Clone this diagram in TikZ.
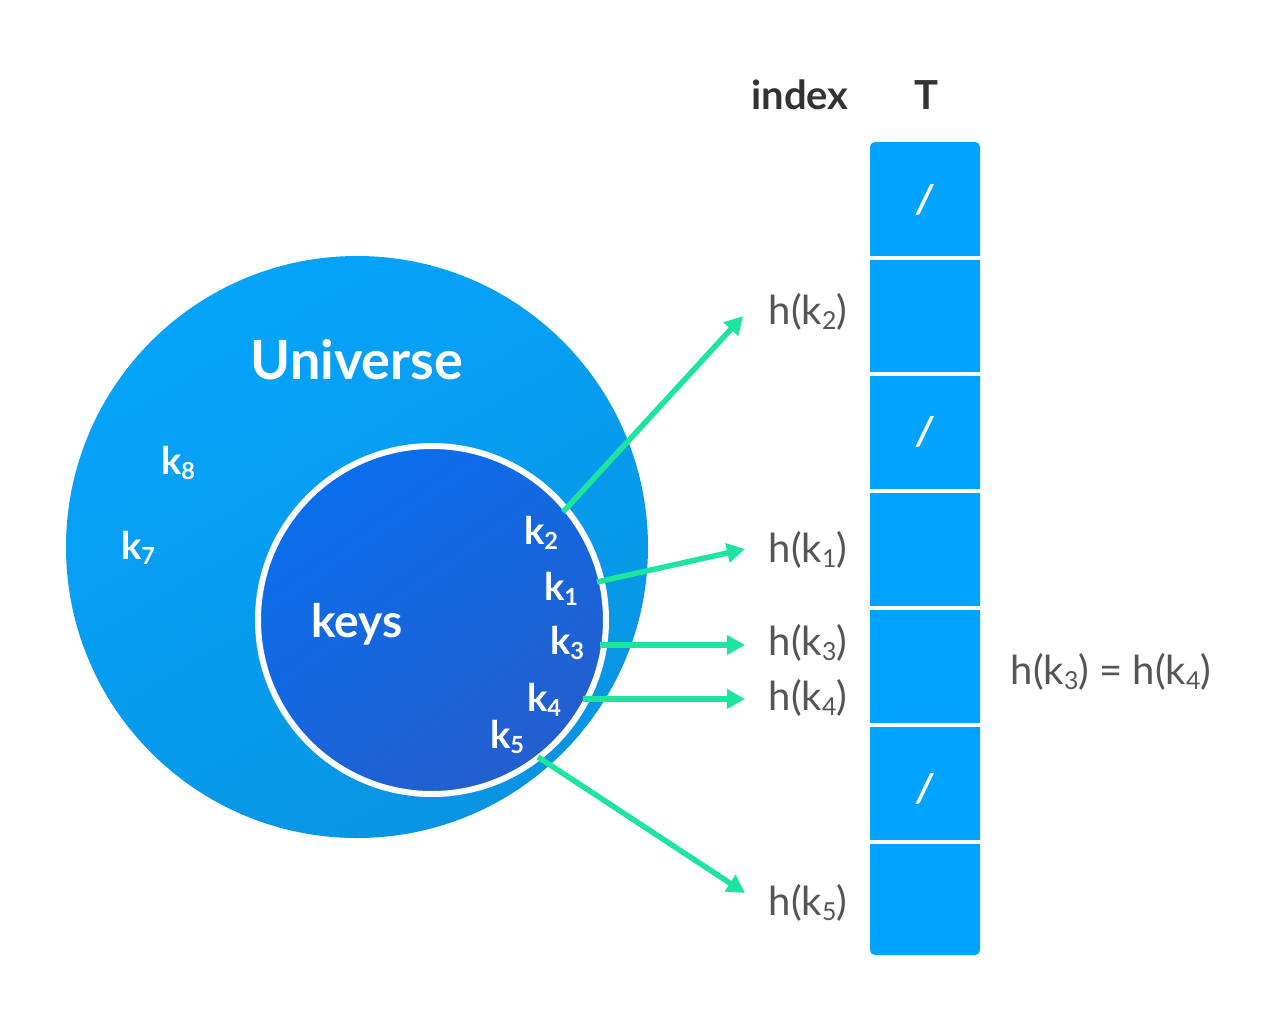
\documentclass[tikz,border=0pt]{standalone}
\usepackage{fontspec}
\usepackage{graphicx}
\setmainfont{Lato}
\usetikzlibrary{arrows.meta}
\definecolor{outerA}{HTML}{05A4FB}
\definecolor{outerB}{HTML}{0894E2}
\definecolor{innerA}{HTML}{0A6EEC}
\definecolor{innerB}{HTML}{235ECE}
\definecolor{tblue}{HTML}{00A3FF}
\definecolor{agreen}{HTML}{1EE59E}
\definecolor{dgray}{HTML}{333333}
\definecolor{mgray}{HTML}{555555}
\newcommand\kk[1]{k\raisebox{-0.12em}{\scalebox{0.62}{#1}}}
\newcommand\hk[1]{h(k\raisebox{-0.12em}{\scalebox{0.62}{#1}})}
\begin{document}
\begin{tikzpicture}[x=1pt,y=-1pt,
  wlab/.style={text=white,font=\fontsize{38}{40}\selectfont\bfseries,inner sep=0pt},
  hlab/.style={text=mgray,font=\fontsize{40}{44}\selectfont,inner sep=0pt,anchor=center},
  hdr/.style={text=dgray,font=\fontsize{40}{44}\selectfont\bfseries,inner sep=0pt},
  slash/.style={text=white,font=\fontsize{40}{40}\selectfont\bfseries\itshape,inner sep=0pt},
  sep/.style={white,line width=4pt},
  harrow/.style={agreen,line width=5.5pt,-{Triangle[length=18pt,width=19pt]}}]
\useasboundingbox (0,0) rectangle (1280,1023);
% universe
\shade[top color=outerA,bottom color=outerB,shading angle=30] (357,547) circle[radius=291];
% keys
\shade[top color=innerA,bottom color=innerB,shading angle=35] (432,620) circle[radius=174];
\draw[white,line width=6pt] (432,620) circle[radius=174];
\node[text=white,font=\fontsize{54}{56}\selectfont\bfseries,inner sep=0pt] (univ) at (357,360) {Universe};
\node[wlab,font=\fontsize{46}{48}\selectfont\bfseries] (keys) at (357,624) {keys};
\node[wlab] (k8) at (178,463) {\kk{8}};
\node[wlab] (k7) at (138,548) {\kk{7}};
\node[wlab] (k2) at (541,533) {\kk{2}};
\node[wlab] (k1) at (561,589) {\kk{1}};
\node[wlab] (k3) at (567,643) {\kk{3}};
\node[wlab] (k4) at (544,700) {\kk{4}};
\node[wlab] (k5) at (507,737) {\kk{5}};
% table
\fill[tblue,rounded corners=5pt] (870,142) rectangle (980,955);
\foreach \y in {258,374,491,608,725,842} \draw[sep] (870,\y) -- (980,\y);
\node[slash] (s1) at (925,200) {/};
\node[slash] (s3) at (925,432) {/};
\node[slash] (s6) at (925,789) {/};
\node[hdr] (index) at (800,95) {index};
\node[hdr] (T) at (926,95) {T};
% hash labels
\node[hlab] (hk2) at (808,312) {\hk{2}};
\node[hlab] (hk1) at (808,550) {\hk{1}};
\node[hlab] (hk3) at (808,643) {\hk{3}};
\node[hlab] (hk4) at (808,698) {\hk{4}};
\node[hlab] (hk5) at (808,903) {\hk{5}};
\node[hlab] (eq) at (1111,672) {\hk{3} = \hk{4}};
% arrows
\coordinate (a2) at (563,512); \coordinate (b2) at (743,316);
\coordinate (a1) at (597,582); \coordinate (b1) at (745,549);
\coordinate (a3) at (600,645); \coordinate (b3) at (745,645);
\coordinate (a4) at (583,699); \coordinate (b4) at (745,699);
\coordinate (a5) at (538,757); \coordinate (b5) at (745,893);
\foreach \i in {2,1,3,4,5} \draw[harrow] (a\i) -- (b\i);
\end{tikzpicture}
\end{document}
